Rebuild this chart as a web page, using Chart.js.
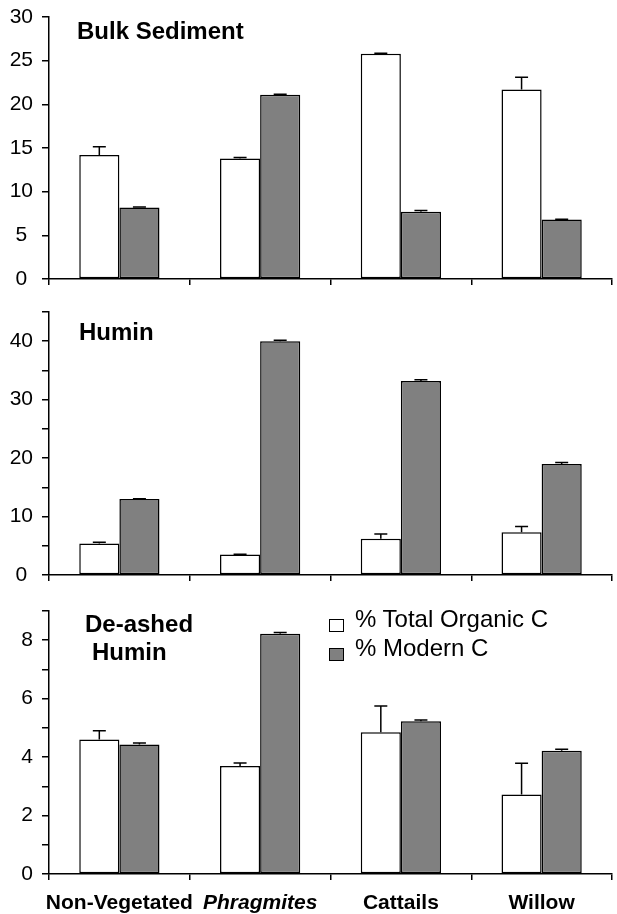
<!DOCTYPE html>
<html>
<head>
<meta charset="utf-8">
<script src="https://cdn.jsdelivr.net/npm/chart.js@4.4.0/dist/chart.umd.min.js"></script>
<style>
  body { margin: 0; background: #fff; font-family: "Liberation Sans", Arial, sans-serif; }
  #wrap { position: relative; width: 617px; height: 914px; }
  canvas { position: absolute; left: 0; }
  .lbl { position: absolute; font-weight: bold; font-size: 24px; line-height: 24px; color: #000; white-space: nowrap; }
  .leg { position: absolute; left: 329px; top: 604px; font-size: 24px; line-height: 29px; }
  .leg div { position: relative; padding-left: 26px; }
  .leg span { position: absolute; left: 0; top: 15px; width: 13px; height: 11px; border: 1px solid #000; }
</style>
</head>
<body>
<div id="wrap">
  <canvas id="c1" width="617" height="300" style="top:0"></canvas>
  <canvas id="c2" width="617" height="300" style="top:300px"></canvas>
  <canvas id="c3" width="617" height="314" style="top:600px"></canvas>
  <div class="lbl" style="left:77px; top:19px">Bulk Sediment</div>
  <div class="lbl" style="left:79px; top:320px">Humin</div>
  <div class="lbl" style="left:85px; top:612px">De-ashed</div>
  <div class="lbl" style="left:92px; top:640px">Humin</div>
  <div class="leg">
    <div><span style="background:#fff"></span>% Total Organic C</div>
    <div><span style="background:#808080"></span>% Modern C</div>
  </div>
</div>
<script>
const categories = ["Non-Vegetated", "Phragmites", "Cattails", "Willow"];

// Bulk sediment
const bulkTotal = [14.2, 13.8, 25.8, 21.7];
const bulkTotalErr = [0.95, 0.1, 0.05, 1.4];
const bulkModern = [8.2, 21.1, 7.7, 6.8];
const bulkModernErr = [0.05, 0.05, 0.15, 0.05];

// Humin
const huminTotal = [5.4, 3.5, 6.2, 7.3];
const huminTotalErr = [0.2, 0.05, 0.8, 1.0];
const huminModern = [13.0, 40.0, 33.2, 19.0];
const huminModernErr = [0.05, 0.15, 0.2, 0.25];

// De-ashed humin
const deashTotal = [4.6, 3.7, 4.85, 2.72];
const deashTotalErr = [0.3, 0.1, 0.9, 1.07];
const deashModern = [4.43, 8.22, 5.23, 4.22];
const deashModernErr = [0.05, 0.04, 0.04, 0.05];

const errorBars = {
  id: "errorBars",
  afterDatasetsDraw(chart) {
    const ctx = chart.ctx;
    const y = chart.scales.y;
    ctx.save();
    ctx.strokeStyle = "#000";
    ctx.lineWidth = 1.5;
    chart.data.datasets.forEach((ds, i) => {
      chart.getDatasetMeta(i).data.forEach((bar, j) => {
        const top = y.getPixelForValue(ds.data[j] + ds.err[j]);
        ctx.beginPath();
        ctx.moveTo(bar.x, bar.y);
        ctx.lineTo(bar.x, top);
        ctx.moveTo(bar.x - 6.5, top);
        ctx.lineTo(bar.x + 6.5, top);
        ctx.stroke();
      });
    });
    ctx.restore();
  },
};

function makePanel(id, total, totalErr, modern, modernErr, max, step, major, top, bottom, showLabels) {
  const el = document.getElementById(id);
  return new Chart(el, {
    type: "bar",
    data: {
      labels: categories,
      datasets: [
        { label: "% Total Organic C", data: total, err: totalErr, backgroundColor: "#fff" },
        { label: "% Modern C", data: modern, err: modernErr, backgroundColor: "#808080" },
      ],
    },
    options: {
      responsive: false,
      animation: false,
      events: [],
      layout: { padding: { top: top, right: 5, left: 0, bottom: 0 } },
      datasets: {
        bar: {
          borderColor: "#000",
          borderWidth: 1.5,
          borderSkipped: false,
          categoryPercentage: 0.57,
          barPercentage: 1,
        },
      },
      plugins: { legend: { display: false }, tooltip: { enabled: false } },
      scales: {
        x: {
          offset: true,
          afterFit(s) { s.height = el.height - bottom; s.paddingLeft = 0; s.paddingRight = 0; },
          grid: { offset: true, drawOnChartArea: false, drawTicks: true, tickLength: 6, color: "#000", lineWidth: 1.5 },
          border: { display: true, color: "#000", width: 1.5 },
          ticks: {
            display: showLabels,
            autoSkip: false,
            maxRotation: 0,
            minRotation: 0,
            padding: 11,
            color: "#000",
            font: (c) => ({
              family: "'Liberation Sans', Arial, sans-serif",
              size: 21,
              weight: "bold",
              style: c.index === 1 ? "italic" : "normal",
            }),
          },
        },
        y: {
          min: 0,
          max: max,
          afterFit(s) { s.width = 49; s.paddingTop = 0; s.paddingBottom = 0; },
          grid: { drawOnChartArea: false, drawTicks: true, tickLength: 7, color: "#000", lineWidth: 1.5 },
          border: { display: true, color: "#000", width: 1.5 },
          ticks: {
            stepSize: step,
            autoSkip: false,
            padding: 9,
            crossAlign: "center",
            color: "#000",
            font: { family: "'Liberation Sans', Arial, sans-serif", size: 21 },
            callback: (v) => (v % major === 0 ? v : ""),
          },
        },
      },
    },
    plugins: [errorBars],
  });
}

makePanel("c1", bulkTotal, bulkTotalErr, bulkModern, bulkModernErr, 30, 5, 5, 17, 279, false);
makePanel("c2", huminTotal, huminTotalErr, huminModern, huminModernErr, 45, 5, 10, 12, 275, false);
makePanel("c3", deashTotal, deashTotalErr, deashModern, deashModernErr, 9, 1, 2, 11, 274, true);
</script>
</body>
</html>
